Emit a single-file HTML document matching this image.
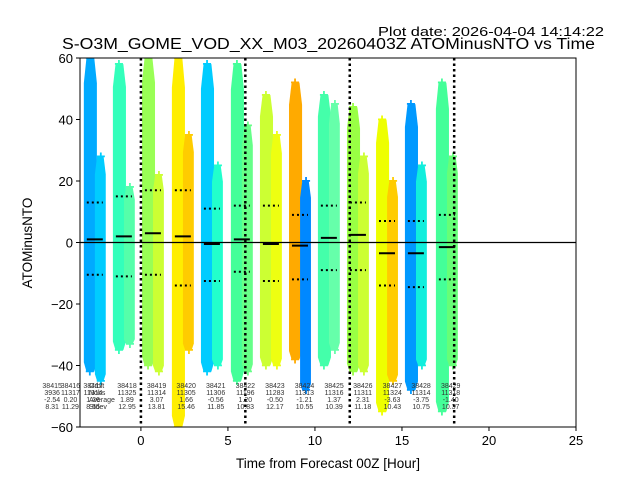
<!DOCTYPE html>
<html><head><meta charset="utf-8"><style>
html,body{margin:0;padding:0;background:#fff;}
svg{display:block;font-family:"Liberation Sans","DejaVu Sans",sans-serif;}
</style></head><body>
<svg id="chart" width="640" height="480" viewBox="0 0 640 480">
<text x="378" y="36" font-size="12.5" textLength="226" lengthAdjust="spacingAndGlyphs" fill="#000">Plot date: 2026-04-04 14:14:22</text>
<text x="62" y="49" font-size="15.5" textLength="533" lengthAdjust="spacingAndGlyphs" fill="#000">S-O3M_GOME_VOD_XX_M03_20260403Z ATOMinusNTO vs Time</text>
<g id="marks"></g>
<g id="labels"></g>
<g id="axes"></g>
</svg>
<script>
const orbits=["38416","38418","38419","38420","38421","38422","38423","38424","38425","38426","38427","38428","38429"];
const startHour=[-3.28,-1.61,0.06,1.78,3.45,5.17,6.84,8.51,10.17,11.84,13.51,15.17,16.95];
const leftTop=[60,58,60,60,58,58,48,52,48,44,40,45,52];
const leftBot=[-42,-35,-40,-60,-42,-45,-40,-38,-40,-42,-55,-48,-55];
const rightTop=[28,18,22,35,25,38,35,20,45,28,20,25,28];
const rightBot=[-45,-33,-42,-35,-40,-42,-40,-48,-35,-42,-45,-40,-40];
const means=[1,2,3,2,-0.5,1,-0.5,-1,1.5,2.5,-3.5,-3.5,-1.5];
const stdUp=[13,15,17,17,11,12,12,9,12,13,7,7,9];
const stdDn=[-10.5,-11,-10.5,-14,-12.5,-9.5,-12.5,-12,-9,-9,-14,-14.5,-12];
const colL=["#00aaff","#33ffbb","#99ff55","#ffee00","#00ccff","#44ff99","#ccff33","#ffaa00","#44ffaa","#99ff44","#eeff00","#0099ff","#44ff99"];
const colR=["#00ccff","#55ffaa","#ccff33","#ffcc00","#22ffcc","#66ff88","#eeff11","#0088ff","#66ffaa","#ccff33","#ffcc00","#11eedd","#66ff77"];
const vlines=[0,6,12,18];
const xTicks=[0,5,10,15,20,25];
const yTicks=[-60,-40,-20,0,20,40,60];
const lblOrbit=["38415","38416","38417","38418","38419","38420","38421","38422","38423","38424","38425","38426","38427","38428","38429"];
const lblN=["3936","11317","11314","11325","11314","11305","11306","11196","11283","11313","11316","11311","11324","11314","11318"];
const lblMean=["-2.54","0.20","1.26","1.89","3.07","1.66","-0.56","1.20","-0.50","-1.21","1.37","2.31","-3.63","-3.75","-1.40"];
const lblStd=["8.31","11.29","8.65","12.95","13.81","15.46","11.85","10.83","12.17","10.55","10.39","11.18","10.43","10.75","10.37"];
const lblHour=[-5.1,-4.05,-2.75,-0.8,0.9,2.6,4.3,6.0,7.7,9.4,11.1,12.75,14.45,16.1,17.8];

const PL=80,PR=576,PT=58,PB=427,XMIN=-3.5,XMAX=25,YMIN=-60,YMAX=60;
const X=v=>PL+(v-XMIN)/(XMAX-XMIN)*(PR-PL);
const Y=v=>PB-(v-YMIN)/(YMAX-YMIN)*(PB-PT);
const NS="http://www.w3.org/2000/svg";
function mk(tag,attrs,parent){const e=document.createElementNS(NS,tag);for(const k in attrs)e.setAttribute(k,attrs[k]);parent.appendChild(e);return e;}
const svg=document.getElementById('chart');
const marks=document.getElementById('marks');
const labels=document.getElementById('labels');
const axes=document.getElementById('axes');
const defs=mk('defs',{},svg);
const clip=mk('clipPath',{id:'pc'},defs);
mk('rect',{x:PL,y:PT,width:PR-PL,height:PB-PT},clip);
marks.setAttribute('clip-path','url(#pc)');
const W=1.26;
function taper(x0,x1,top,bot){
  const yt=Y(top),yb=Y(bot),h=yb-yt,w=x1-x0,c=(x0+x1)/2;
  return [[c-w*0.3,yt],[c+w*0.3,yt],[x1,yt+h*0.08],[x1,yb-h*0.03],[c+w*0.3,yb],[c-w*0.3,yb],[x0,yb-h*0.03],[x0,yt+h*0.08]].map(p=>p.join(',')).join(' ');
}
orbits.forEach((o,i)=>{
  const g=mk('g',{},marks);
  
  
  const x0=X(startHour[i]),x1=X(startHour[i]+W*0.55),x2=X(startHour[i]+W);
  const r1=mk('polygon',{points:taper(x0,x1+1,leftTop[i],leftBot[i]),fill:colL[i]},g);
  
  
  const r2=mk('polygon',{points:taper(x1-1,x2,rightTop[i],rightBot[i]),fill:colR[i]},g);
  
  
  [[x0+(x1-x0)/2,leftTop[i],colL[i]],[x0+(x1-x0)/2,leftBot[i],colL[i]],[x1+(x2-x1)/2,rightTop[i],colR[i]],[x1+(x2-x1)/2,rightBot[i],colR[i]]].forEach(p=>{
    const t=mk('text',{x:p[0],y:Y(p[1])+5,'font-size':16,'font-weight':'bold','text-anchor':'middle',fill:p[2]},g);
    t.textContent='+';
    
    
  });
  const cx=X(startHour[i]+W/2);
  const m=mk('line',{x1:cx-8,x2:cx+8,y1:Y(means[i]),y2:Y(means[i]),stroke:'#000','stroke-width':2},g);
  
  
  [stdUp[i],stdDn[i]].forEach(s=>{
    const d=mk('line',{x1:cx-8,x2:cx+8,y1:Y(s),y2:Y(s),stroke:'#000','stroke-width':2,'stroke-dasharray':'2,3'},g);
    
    
  });
});
vlines.forEach(v=>{
  const l=mk('line',{x1:X(v),x2:X(v),y1:PT,y2:PB,stroke:'#000','stroke-width':2.5,'stroke-dasharray':'2.5,3'},marks);
  
  
});
const z=mk('line',{x1:PL,x2:PR,y1:Y(0),y2:Y(0),stroke:'#000','stroke-width':1.2},marks);


const rowsY=[388,395,402,409];
const hdr=['Orbit','Nobs','Average','Stdev'];
hdr.forEach((h,j)=>{const t=mk('text',{x:89,y:rowsY[j],'font-size':7,fill:'#333'},labels);t.textContent=h;
  
  });
lblOrbit.forEach((o,i)=>{
  const vals=[o,lblN[i],lblMean[i],lblStd[i]];
  vals.forEach((v,j)=>{
    const t=mk('text',{x:X(lblHour[i]),y:rowsY[j],'font-size':7,'text-anchor':'middle',fill:'#333'},labels);
    t.textContent=v;
    
    
  });
});
const fr=mk('rect',{x:PL,y:PT,width:PR-PL,height:PB-PT,fill:'none',stroke:'#000','stroke-width':1},axes);


xTicks.forEach(v=>{
  mk('line',{x1:X(v),x2:X(v),y1:PB,y2:PB+4,stroke:'#000'},axes);
  const t=mk('text',{x:X(v),y:PB+18,'font-size':13,'text-anchor':'middle'},axes);
  t.textContent=v;
  
  
});
yTicks.forEach(v=>{
  mk('line',{x1:PL-4,x2:PL,y1:Y(v),y2:Y(v),stroke:'#000'},axes);
  const t=mk('text',{x:PL-7,y:Y(v)+5,'font-size':13,'text-anchor':'end'},axes);
  t.textContent=v<0?'\u2212'+Math.abs(v):v;
  
  
});
const xt=mk('text',{x:328,y:468,'font-size':13.5,'text-anchor':'middle'},axes);
xt.textContent='Time from Forecast 00Z [Hour]';


const yt=mk('text',{x:32,y:243,'font-size':13.5,'text-anchor':'middle',transform:'rotate(-90 32 243)'},axes);
yt.textContent='ATOMinusNTO';


</script>
</body></html>
